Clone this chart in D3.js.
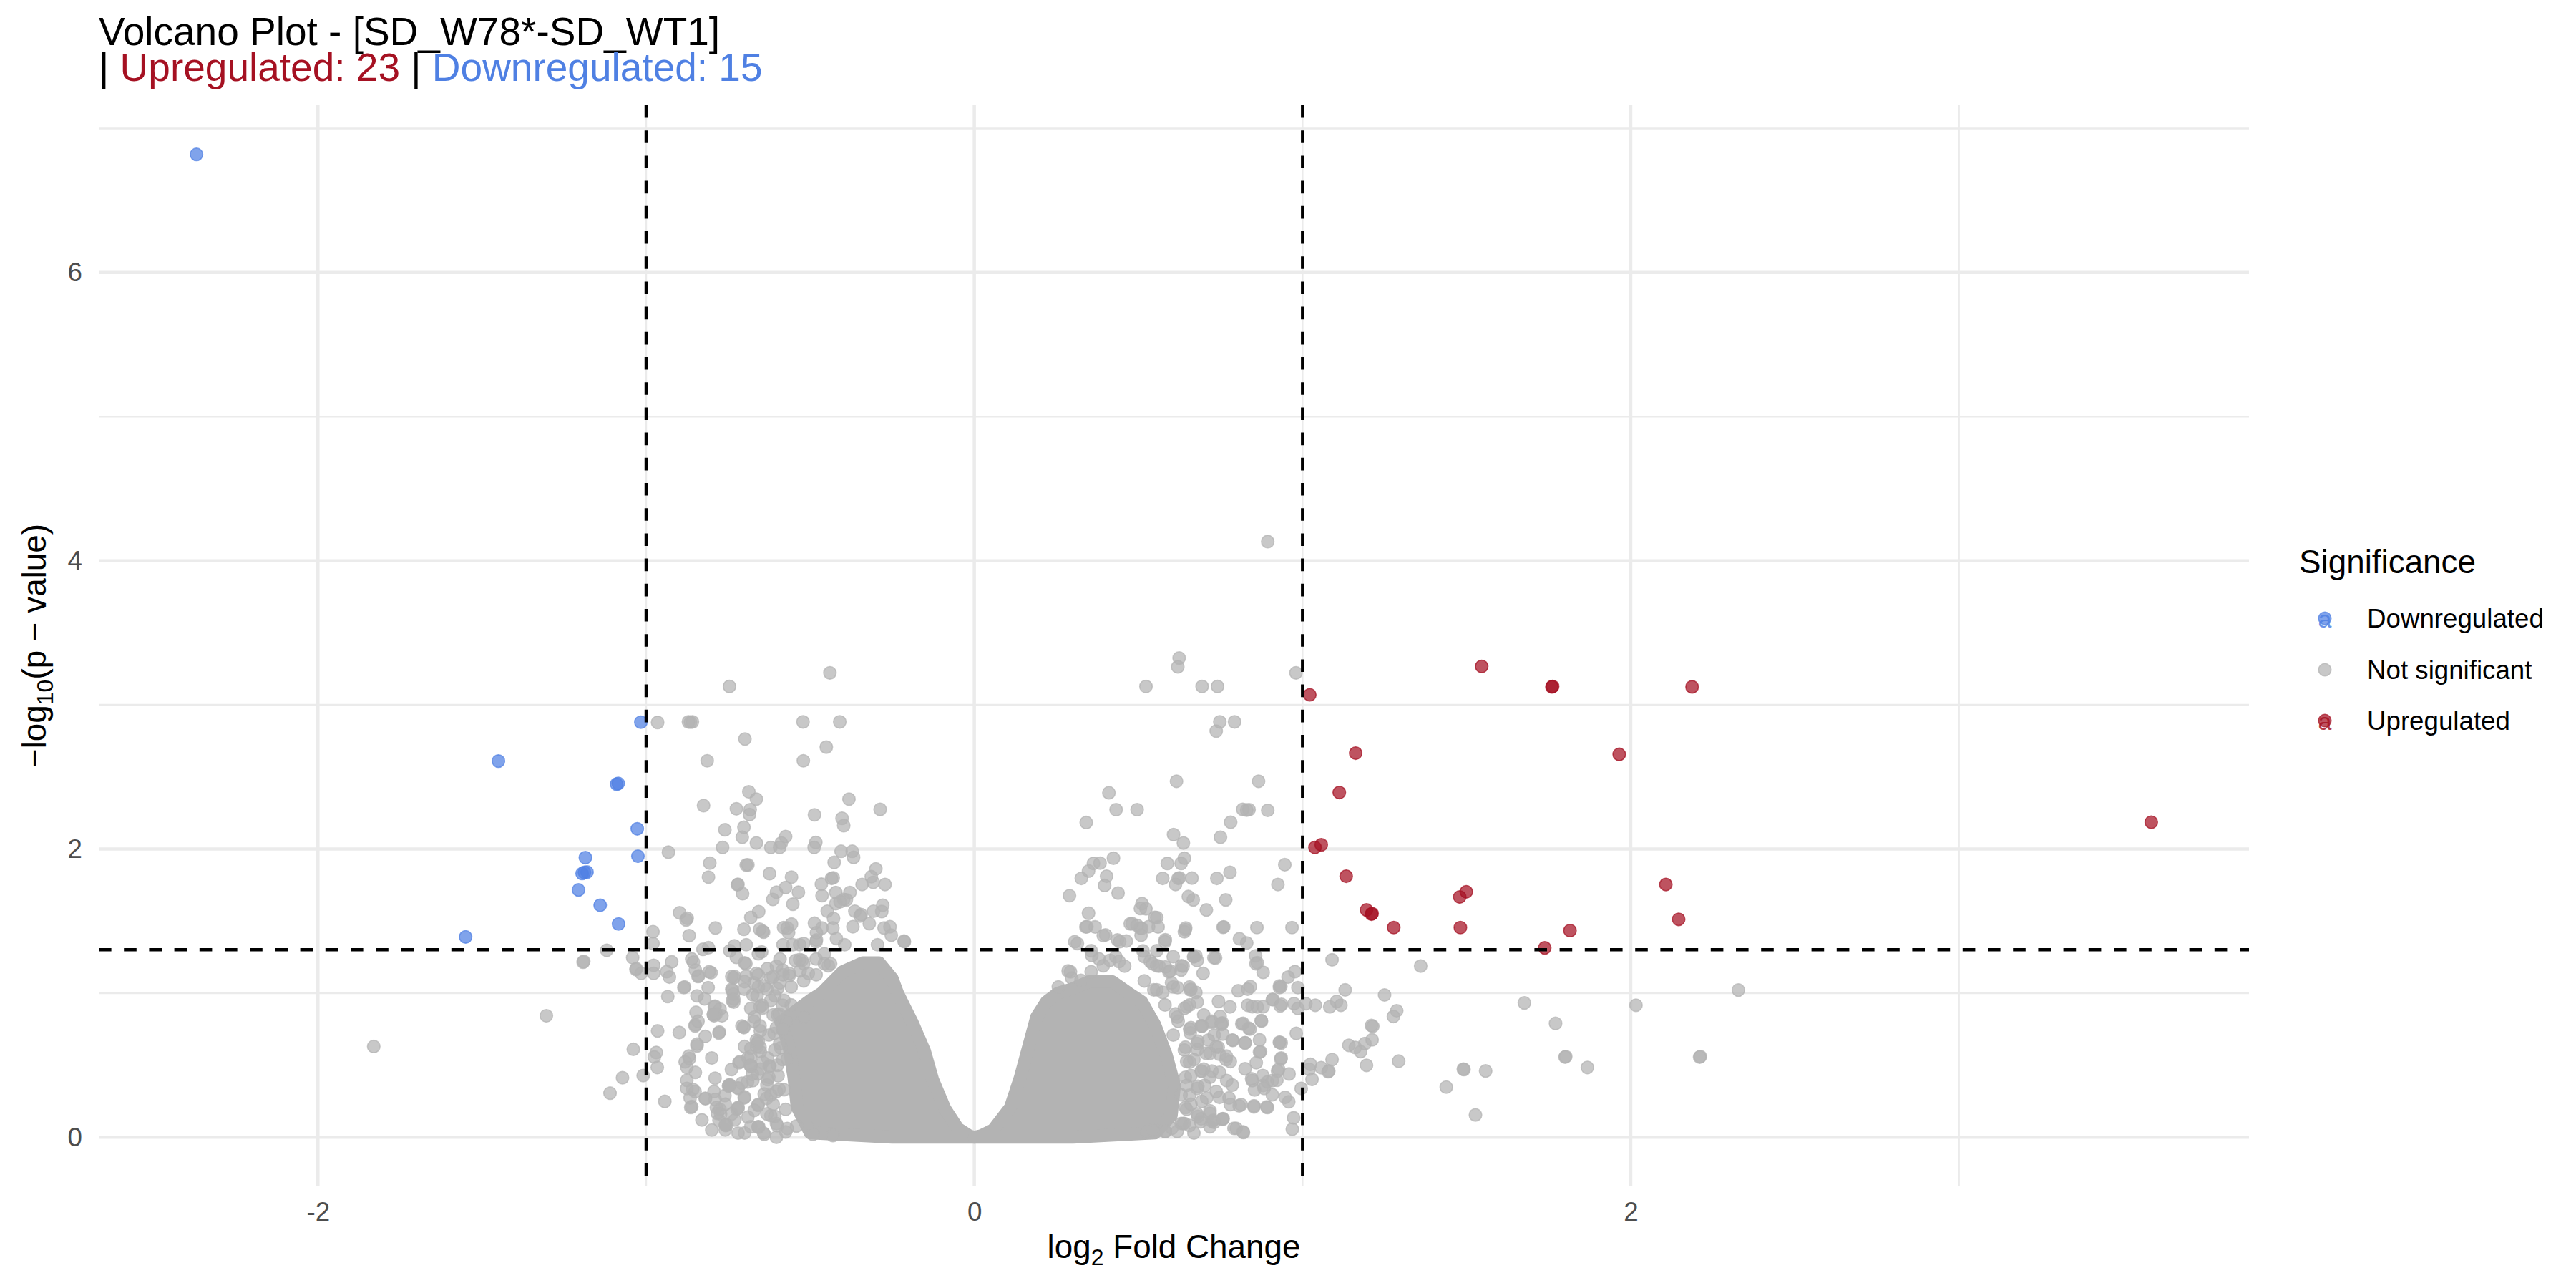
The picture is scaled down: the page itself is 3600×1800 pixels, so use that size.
<!DOCTYPE html>
<html>
<head>
<meta charset="utf-8">
<script src="https://cdn.jsdelivr.net/npm/d3@7"></script>
<style>
  body { margin: 0; background: #fff; }
  text { font-family: "Liberation Sans", Arial, Helvetica, sans-serif; }
</style>
</head>
<body>
<div id="chart"></div>
<script>
const width = 3600,
    height = 1800;

// 軸的刻度
const xTicks = [-2, 0, 2];
const xMinor = [-1, 1, 3];
const yTicks = [0, 2, 4, 6];
const yMinor = [1, 3, 5, 7];

// 門檻線 |log2FC| = 1, p = 0.05
const fcCut = 1;
const pCut = 1.301;

const groups = ['Downregulated', 'Not significant', 'Upregulated'];
const colours = ['#4F80E3', '#B3B3B3', '#A51122'];

// 顯著下調 [log2FC, -log10 p]
const downPoints = [
    [-2.37, 6.82], [-1.45, 2.61], [-1.55, 1.39], [-1.016, 2.88], [-1.09, 2.45],
    [-1.085, 2.455], [-1.027, 2.14], [-1.025, 1.95], [-1.185, 1.94], [-1.18, 1.84],
    [-1.195, 1.83], [-1.188, 1.838], [-1.206, 1.716], [-1.14, 1.61], [-1.084, 1.48]
];

// 顯著上調
const upPoints = [
    [1.022, 3.07], [1.546, 3.267], [1.76, 3.125], [1.762, 3.128], [2.187, 3.125],
    [1.965, 2.657], [3.586, 2.186], [1.499, 1.703], [1.479, 1.667], [1.481, 1.455],
    [1.815, 1.434], [1.738, 1.314], [2.107, 1.754], [2.146, 1.512], [1.162, 2.665],
    [1.112, 2.392], [1.038, 2.011], [1.057, 2.029], [1.133, 1.811], [1.195, 1.577],
    [1.21, 1.548], [1.212, 1.552], [1.278, 1.455]
];

// 不顯著（散開的點）
const nsPoints = [
    // left side
    [-1.83, 0.63], [-1.304, 0.843], [-1.12, 1.297], [-1.041, 1.246], [-1.192, 1.215], [-1.19, 1.22],
    [-1.031, 1.164], [-1.03, 1.17], [-1.015, 1.137], [-0.977, 1.193], [-0.977, 1.137], [-0.922, 1.217],
    [-0.937, 1.149], [-0.929, 1.111], [-0.885, 1.038], [-0.861, 1.237], [-0.856, 1.215], [-0.842, 1.115],
    [-0.84, 1.12], [-0.85, 1.16], [-0.802, 1.142], [-0.827, 1.304], [-0.81, 1.315], [-0.811, 1.038],
    [-0.934, 0.976], [-0.822, 0.96], [-0.792, 0.905], [-0.79, 0.91], [-0.793, 0.843], [-0.795, 0.85],
    [-0.769, 0.843], [-0.848, 0.867], [-0.851, 0.772], [-0.85, 0.78], [-0.842, 0.805], [-0.965, 0.738],
    [-0.899, 0.727], [-0.778, 0.723], [-0.845, 0.634], [-1.039, 0.61], [-0.969, 0.588], [-0.975, 0.557],
    [-0.966, 0.484], [-0.868, 0.546], [-0.881, 0.523], [-0.876, 0.484], [-0.85, 0.45], [-1.072, 0.413],
    [-1.009, 0.428], [-1.11, 0.306], [-0.876, 0.395], [-0.876, 0.339], [-0.851, 0.317], [-0.866, 0.273],
    [-0.861, 0.213], [-0.943, 0.249], [-0.819, 0.268], [-0.793, 0.317], [-0.79, 0.262], [-0.786, 0.206],
    [-0.773, 0.162], [-0.754, 0.084], [-0.749, 0.355], [-0.745, 0.36], [-0.723, 0.195], [-0.717, 0.517],
    [-0.68, 0.495], [-0.702, 0.761], [-0.73, 1.115], [-0.739, 1.027], [-0.734, 0.993], [-0.733, 0.938],
    [-0.725, 1.248], [-0.696, 1.204], [-0.7, 1.21], [-0.659, 0.222], [-0.657, 0.073], [-0.681, 0.617],
    [-0.662, 0.65], [-0.652, 0.594],
    [-0.965, 2.878], [-0.871, 2.882], [-0.859, 2.882], [-0.865, 2.88], [-0.522, 2.882], [-0.41, 2.882],
    [-0.699, 2.763], [-0.451, 2.707], [-0.814, 2.612], [-0.521, 2.612], [-0.687, 2.397], [-0.664, 2.346],
    [-0.382, 2.346], [-0.825, 2.301], [-0.725, 2.279], [-0.683, 2.273], [-0.685, 2.239], [-0.287, 2.275],
    [-0.487, 2.237], [-0.403, 2.213], [-0.398, 2.162], [-0.76, 2.133], [-0.702, 2.151], [-0.707, 2.082],
    [-0.664, 2.042], [-0.575, 2.086], [-0.588, 2.042], [-0.62, 2.011], [-0.593, 2.011], [-0.483, 2.046],
    [-0.488, 2.011], [-0.767, 2.011], [-0.932, 1.978], [-0.406, 1.984], [-0.372, 1.984], [-0.368, 1.942],
    [-0.806, 1.902], [-0.695, 1.889], [-0.69, 1.89], [-0.427, 1.907], [-0.435, 1.796], [-0.43, 1.8],
    [-0.81, 1.805], [-0.624, 1.829], [-0.557, 1.805], [-0.3, 1.862], [-0.342, 1.754], [-0.308, 1.769],
    [-0.272, 1.754], [-0.722, 1.752], [-0.72, 1.755], [-0.706, 1.69], [-0.466, 1.756], [-0.464, 1.676],
    [-0.603, 1.7], [-0.575, 1.733], [-0.536, 1.7], [-0.553, 1.617], [-0.614, 1.65],
    [-0.422, 1.698], [-0.379, 1.698], [-0.39, 1.647], [-0.422, 1.621], [-0.279, 1.61], [-0.398, 1.65],
    [-0.409, 1.634], [-0.314, 1.808], [-0.898, 1.557], [-0.875, 1.519], [-0.878, 1.508], [-0.657, 1.565],
    [-0.681, 1.525], [-0.789, 1.452], [-0.869, 1.399], [-0.702, 1.443], [-0.654, 1.443], [-0.642, 1.423],
    [-0.645, 1.43], [-0.581, 1.455], [-0.566, 1.419], [-0.557, 1.479], [-0.979, 1.426], [-0.979, 1.344],
    [-0.448, 1.568], [-0.429, 1.518], [-0.364, 1.568], [-0.348, 1.535], [-0.307, 1.568], [-0.275, 1.452],
    [-0.487, 1.485], [-0.464, 1.452], [-0.431, 1.452], [-0.481, 1.419], [-0.253, 1.402], [-0.214, 1.361],
    [-0.57, 1.452], [-0.553, 1.336], [-0.52, 1.344], [-0.481, 1.369], [-0.731, 1.328], [-0.648, 1.286],
    [-0.592, 1.237], [-0.525, 1.228], [-0.664, 1.137], [-0.631, 1.17], [-0.603, 1.187], [-0.564, 1.121],
    [-0.531, 1.154], [-0.737, 1.021], [-0.737, 0.947], [-0.675, 0.988], [-0.653, 0.906], [-0.787, 0.856],
    [-0.775, 0.889], [-0.703, 0.765], [-0.653, 0.773], [-0.664, 0.674], [-0.653, 0.624], [-0.714, 0.525],
    [-0.681, 0.492], [-0.748, 0.36], [-0.72, 0.343], [-0.72, 0.202], [-0.675, 0.393], [-0.659, 0.227],
    [-0.775, 0.194], [-0.759, 0.086], [-0.659, 0.07], [-0.575, 0.037], [-0.492, 0.02], [-0.431, 0.012],
    [-0.625, 0.492], [-0.598, 0.426], [-0.62, 0.293], [-0.575, 0.194], [-0.542, 0.078],
    [-0.62, 0.95], [-0.6, 0.85], [-0.61, 0.72], [-0.59, 0.62], [-0.63, 0.55], [-0.6, 0.5], [-0.63, 0.4],
    [-0.58, 0.33], [-0.62, 0.15], [-0.6, 0.08], [-0.64, 0.3], [-0.66, 0.44], [-0.6, 1.03], [-0.58, 0.95],
    [-0.585, 0.75], [-0.64, 1.05], [-0.7, 1.08], [-0.69, 0.55], [-0.7, 0.63], [-0.74, 0.47], [-0.76, 0.29],
    [-0.79, 0.41], [-0.8, 0.55], [-0.82, 0.7], [-0.7, 0.28], [-0.73, 0.12], [-0.69, 0.14], [-0.64, 0.02],
    [-0.7, 0.03], [-0.8, 0.05], [-0.83, 0.12],
    [-0.739, 1.115], [-0.701, 1.027], [-0.671, 1.071], [-0.662, 0.982], [-0.647, 0.916], [-0.632, 1.027],
    [-0.613, 1.115], [-0.593, 1.071], [-0.584, 1.16], [-0.564, 1.137], [-0.545, 1.226], [-0.52, 1.204],
    [-0.506, 1.137], [-0.482, 1.237], [-0.457, 1.204], [-0.438, 1.204], [-0.681, 0.894], [-0.671, 0.805],
    [-0.652, 0.738], [-0.662, 0.628], [-0.681, 0.561], [-0.652, 0.473], [-0.623, 0.495], [-0.632, 0.362],
    [-0.603, 0.317], [-0.613, 0.229], [-0.632, 0.162], [-0.603, 0.096], [-0.584, 0.539], [-0.593, 0.65],
    [-0.603, 0.761], [-0.613, 0.849], [-0.584, 0.916], [-0.574, 0.805], [-0.72, 0.339], [-0.701, 0.273],
    [-0.691, 0.384], [-0.759, 0.229], [-0.739, 0.162], [-0.778, 0.118], [-0.759, 0.051], [-0.72, 0.029],
    [-0.681, 0.073], [-0.642, 0.029], [-0.603, 0.0],
    [-0.733, 1.106], [-0.695, 1.117], [-0.658, 1.127], [-0.62, 1.106], [-0.583, 1.127], [-0.558, 1.043],
    [-0.52, 1.085], [-0.658, 1.043], [-0.608, 0.981], [-0.645, 0.897], [-0.595, 0.855], [-0.558, 0.918],
    [-0.52, 0.834], [-0.583, 0.751], [-0.626, 0.709], [-0.658, 0.667], [-0.608, 0.605], [-0.57, 0.542],
    [-0.645, 0.521], [-0.676, 0.437], [-0.626, 0.416], [-0.595, 0.333], [-0.633, 0.27], [-0.67, 0.187],
    [-0.608, 0.145], [-0.57, 0.061], [-0.658, 0.072], [-0.708, 0.375], [-0.745, 0.364], [-0.72, 0.207],
    [-0.758, 0.082], [-0.783, 0.166], [-0.683, 0.5], [-0.708, 0.772], [-0.733, 0.96], [-0.67, 0.834],
    [-0.777, 0.73], [-0.845, 0.646], [-0.87, 0.563], [-0.858, 0.333], [-0.82, 0.27], [-0.864, 0.207],
    [-0.795, 0.855], [-0.845, 0.981], [-0.883, 1.043], [-0.808, 1.148], [-0.745, 1.294], [-0.695, 1.336],
    [-0.658, 1.273], [-0.583, 1.336], [-0.532, 1.336], [-0.482, 1.357], [-0.532, 1.232], [-0.457, 1.273],
    [-0.42, 1.378], [-0.37, 1.461], [-0.32, 1.482], [-0.345, 1.545], [-0.282, 1.566], [-0.257, 1.461],
    [-0.213, 1.357], [-0.295, 1.336], [-0.395, 1.336], [-0.445, 1.19], [-0.482, 1.127],
    // top middle
    [-0.746, 3.128], [-0.44, 3.222], [0.523, 3.128], [0.624, 3.325], [0.62, 3.264], [0.694, 3.128],
    [0.741, 3.128], [0.98, 3.222], [0.894, 4.133],
    // right side
    [0.748, 2.882], [0.793, 2.882], [0.737, 2.818], [0.616, 2.47], [0.866, 2.47], [0.41, 2.39],
    [0.432, 2.273], [0.496, 2.273], [0.341, 2.184], [0.818, 2.275], [0.837, 2.273], [0.83, 2.27],
    [0.894, 2.268], [0.781, 2.186], [0.607, 2.1], [0.637, 2.042], [0.75, 2.082], [0.424, 1.936],
    [0.363, 1.9], [0.383, 1.902], [0.348, 1.847], [0.326, 1.796], [0.403, 1.811], [0.397, 1.747],
    [0.438, 1.694], [0.29, 1.676], [0.588, 1.9], [0.63, 1.9], [0.64, 1.936], [0.574, 1.796],
    [0.621, 1.796], [0.625, 1.8], [0.613, 1.754], [0.663, 1.798], [0.739, 1.796], [0.779, 1.838],
    [0.946, 1.891], [0.925, 1.754], [0.652, 1.67], [0.667, 1.647], [0.707, 1.577], [0.766, 1.647],
    [0.511, 1.621], [0.523, 1.585], [0.55, 1.525], [0.56, 1.459], [0.348, 1.554], [0.34, 1.459],
    [0.368, 1.459], [0.475, 1.481], [0.496, 1.47], [0.506, 1.452], [0.51, 1.45], [0.644, 1.452],
    [0.64, 1.426], [0.758, 1.457], [0.76, 1.46], [0.861, 1.455], [0.968, 1.455], [0.4, 1.404],
    [0.314, 1.344], [0.582, 1.37], [0.808, 1.377], [0.83, 1.348], [0.857, 1.259], [0.862, 1.211],
    [0.88, 1.144], [0.735, 1.244], [0.697, 1.137], [0.675, 1.259], [0.679, 1.226], [1.09, 1.231],
    [1.36, 1.188], [0.977, 1.149], [0.956, 1.111], [0.934, 1.045], [0.93, 1.05], [0.986, 1.038],
    [1.13, 1.022], [1.25, 0.987], [0.804, 1.016], [0.833, 1.027], [0.841, 1.045], [0.91, 0.956],
    [0.932, 0.912], [0.974, 0.927], [0.986, 0.894], [1.01, 0.927], [1.039, 0.916], [1.083, 0.905],
    [1.104, 0.942], [1.117, 0.916], [1.287, 0.878], [1.277, 0.838], [1.214, 0.77], [1.21, 0.775],
    [1.212, 0.676], [1.141, 0.638], [1.161, 0.623], [1.177, 0.594], [1.19, 0.65], [1.195, 0.499],
    [1.293, 0.528], [1.438, 0.348], [1.09, 0.539], [1.078, 0.455], [1.08, 0.46], [1.057, 0.483],
    [1.029, 0.401], [1.02, 0.472], [1.024, 0.506], [0.996, 0.339], [0.958, 0.246], [0.973, 0.135],
    [0.969, 0.056], [0.798, 0.062], [0.82, 0.033], [0.935, 0.654], [0.93, 0.66], [0.981, 0.721],
    [0.934, 0.543], [0.935, 0.55], [0.927, 0.472], [0.959, 0.439], [0.869, 0.676], [0.872, 0.594],
    [0.859, 0.517], [0.879, 0.428], [0.845, 0.406], [0.854, 0.328], [0.883, 0.339], [0.788, 0.672],
    [0.825, 0.654], [0.744, 0.942], [0.779, 0.905], [0.833, 0.916], [0.862, 0.905], [0.874, 0.81],
    [0.815, 0.787], [0.84, 0.75], [0.695, 0.772], [0.723, 0.798], [0.753, 0.783], [0.749, 0.838],
    [0.908, 0.295], [0.893, 0.384], [0.922, 0.395], [0.807, 0.218], [0.852, 0.218], [0.893, 0.207],
    [0.757, 0.129], [0.728, 0.118], [0.689, 0.107], [0.63, 0.096], [0.582, 0.04],
    [0.358, 1.261], [0.38, 1.237], [0.413, 1.228], [0.441, 1.22], [0.458, 1.187], [0.286, 1.154],
    [0.297, 1.104], [0.325, 1.088], [0.536, 1.22], [0.563, 1.187], [0.597, 1.154], [0.636, 1.187],
    [0.669, 1.253], [0.73, 1.245], [0.858, 1.204], [0.547, 1.022], [0.574, 1.005], [0.619, 1.038],
    [0.658, 1.022], [0.675, 1.005], [0.847, 0.906], [0.88, 0.906], [0.908, 0.955], [0.93, 1.038],
    [0.936, 0.922], [0.613, 0.856], [0.647, 0.906], [0.691, 0.773], [0.724, 0.806], [0.752, 0.79],
    [0.786, 0.674], [0.819, 0.79], [0.836, 0.757], [0.875, 0.806], [0.93, 0.657], [0.825, 0.657],
    [0.869, 0.591], [0.658, 0.724], [0.68, 0.608], [0.713, 0.674], [0.747, 0.575], [0.78, 0.525],
    [0.647, 0.525], [0.691, 0.459], [0.724, 0.459], [0.769, 0.393], [0.825, 0.475], [0.847, 0.393],
    [0.88, 0.36], [0.908, 0.393], [0.924, 0.459], [0.947, 0.277], [0.647, 0.36], [0.702, 0.36],
    [0.747, 0.277], [0.78, 0.227], [0.813, 0.227], [0.852, 0.211], [0.891, 0.211], [0.647, 0.194],
    [0.691, 0.128], [0.724, 0.111], [0.758, 0.128], [0.791, 0.062], [0.819, 0.037], [0.636, 0.095],
    [0.602, 0.062], [0.558, 0.045], [0.525, 0.037], [0.436, 1.369], [0.463, 1.361], [0.508, 1.402],
    [0.514, 1.293], [0.543, 1.204], [0.582, 1.182], [0.601, 1.071], [0.63, 1.16], [0.66, 1.027],
    [0.679, 0.938], [0.64, 0.894], [0.621, 0.805], [0.66, 0.761], [0.679, 0.65], [0.64, 0.605],
    [0.669, 0.539], [0.699, 0.473], [0.66, 0.428], [0.679, 0.339], [0.708, 0.273], [0.66, 0.229],
    [0.679, 0.162], [0.718, 0.184], [0.737, 0.317], [0.747, 0.45], [0.767, 0.539], [0.737, 0.628],
    [0.776, 0.273], [0.786, 0.362], [0.718, 0.583], [0.757, 0.716], [0.699, 0.849], [0.63, 0.295],
    [0.64, 0.096], [0.669, 0.029], [0.718, 0.073], [0.543, 0.051],
    [0.518, 1.253], [0.556, 1.294], [0.606, 1.253], [0.556, 1.19], [0.593, 1.148], [0.631, 1.19],
    [0.668, 1.253], [0.518, 1.085], [0.556, 1.023], [0.606, 1.043], [0.656, 1.043], [0.581, 0.918],
    [0.618, 0.834], [0.656, 0.918], [0.606, 0.709], [0.656, 0.751], [0.693, 0.772], [0.643, 0.625],
    [0.681, 0.667], [0.706, 0.583], [0.656, 0.521], [0.693, 0.458], [0.643, 0.416], [0.681, 0.354],
    [0.718, 0.416], [0.656, 0.291], [0.693, 0.249], [0.643, 0.207], [0.681, 0.145], [0.718, 0.166],
    [0.656, 0.082], [0.618, 0.04], [0.581, 0.04], [0.731, 0.103], [0.756, 0.124], [0.743, 0.625],
    [0.768, 0.563], [0.731, 0.709], [0.756, 0.793], [0.531, 1.461], [0.481, 1.482], [0.506, 1.587],
    [0.556, 1.524], [0.643, 1.44], [0.581, 1.357], [0.443, 1.357], [0.431, 1.253], [0.393, 1.19],
    [0.356, 1.294], [0.343, 1.461], [0.393, 1.399], [0.306, 1.357], [0.293, 1.148], [0.256, 1.043],
    [0.356, 1.148],
    // far right
    [2.328, 1.021], [1.676, 0.932], [2.016, 0.916], [1.771, 0.79], [1.8, 0.556], [1.802, 0.56],
    [2.21, 0.556], [2.212, 0.56], [1.868, 0.484], [1.49, 0.473], [1.492, 0.47], [1.558, 0.46],
    [1.527, 0.155]
];

// 密集區的外框（點中心），用粗邊線補上點的半徑
const leftCloud = [
    [-0.5, 0.03], [-0.54, 0.21], [-0.55, 0.42], [-0.565, 0.63], [-0.59, 0.8], [-0.5, 0.95],
    [-0.465, 1.0], [-0.4, 1.15], [-0.34, 1.21], [-0.29, 1.21], [-0.25, 1.1], [-0.234, 1.0],
    [-0.19, 0.8], [-0.152, 0.6], [-0.127, 0.4], [-0.09, 0.2], [-0.05, 0.06], [-0.015, 0.01],
    [0, 0], [-0.25, 0.0]
];
const rightCloud = [
    [0, 0], [0.02, 0.01], [0.057, 0.05], [0.11, 0.207], [0.14, 0.415], [0.165, 0.625], [0.19, 0.835],
    [0.22, 0.94], [0.255, 1.0], [0.3, 1.03], [0.35, 1.08], [0.42, 1.08], [0.47, 1.0], [0.51, 0.94],
    [0.55, 0.78], [0.585, 0.57], [0.61, 0.36], [0.6, 0.15], [0.55, 0.03], [0.3, 0.0]
];

const margin = { left: 138, right: 3143, top: 147, bottom: 1658 };

const svg = d3.select('#chart')
    .append('svg')
    .attr('width', width)
    .attr('height', height);

svg.append('rect').attr('width', width).attr('height', height).attr('fill', '#fff');

// 比例尺（跟 ggplot 一樣往外擴 5%）
const allPts = downPoints.concat(upPoints, nsPoints, leftCloud, rightCloud);
const xExt = d3.extent(allPts, d => d[0]);
const yExt = d3.extent(allPts, d => d[1]);
const xPad = (xExt[1] - xExt[0]) * 0.05;
const yPad = (yExt[1] - yExt[0]) * 0.05;

const x = d3.scaleLinear()
    .domain([xExt[0] - xPad, xExt[1] + xPad])
    .range([margin.left, margin.right]);
const y = d3.scaleLinear()
    .domain([yExt[0] - yPad, yExt[1] + yPad])
    .range([margin.bottom, margin.top]);

// 格線
const grid = svg.append('g');
grid.selectAll('.xminor').data(xMinor).enter().append('line')
    .attr('x1', d => x(d)).attr('x2', d => x(d))
    .attr('y1', margin.top).attr('y2', margin.bottom)
    .attr('stroke', '#EBEBEB').attr('stroke-width', 2.5);
grid.selectAll('.yminor').data(yMinor).enter().append('line')
    .attr('y1', d => y(d)).attr('y2', d => y(d))
    .attr('x1', margin.left).attr('x2', margin.right)
    .attr('stroke', '#EBEBEB').attr('stroke-width', 2.5);
grid.selectAll('.xmajor').data(xTicks).enter().append('line')
    .attr('x1', d => x(d)).attr('x2', d => x(d))
    .attr('y1', margin.top).attr('y2', margin.bottom)
    .attr('stroke', '#EBEBEB').attr('stroke-width', 4.5);
grid.selectAll('.ymajor').data(yTicks).enter().append('line')
    .attr('y1', d => y(d)).attr('y2', d => y(d))
    .attr('x1', margin.left).attr('x2', margin.right)
    .attr('stroke', '#EBEBEB').attr('stroke-width', 4.5);

// 密集區
const line = d3.line().x(d => x(d[0])).y(d => y(d[1])).curve(d3.curveLinearClosed);
svg.append('g').selectAll('path')
    .data([leftCloud, rightCloud])
    .enter()
    .append('path')
    .attr('d', line)
    .attr('fill', colours[1])
    .attr('stroke', colours[1])
    .attr('stroke-width', 18)
    .attr('stroke-linejoin', 'round');

// 點
const pointR = 8.8;
function drawPoints(data, colour) {
    svg.append('g')
        .selectAll('circle')
        .data(data)
        .enter()
        .append('circle')
        .attr('cx', d => x(d[0]))
        .attr('cy', d => y(d[1]))
        .attr('r', pointR)
        .attr('fill', colour)
        .attr('fill-opacity', 0.72)
        .attr('stroke', colour)
        .attr('stroke-opacity', 0.72)
        .attr('stroke-width', 1.6);
}
drawPoints(nsPoints, colours[1]);
drawPoints(downPoints, colours[0]);
drawPoints(upPoints, colours[2]);

// 虛線
const dash = svg.append('g')
    .attr('stroke', '#000')
    .attr('stroke-width', 4.4)
    .attr('stroke-dasharray', '17.6,17.6');
dash.selectAll('.v').data([-fcCut, fcCut]).enter().append('line')
    .attr('x1', d => x(d)).attr('x2', d => x(d))
    .attr('y1', margin.top).attr('y2', margin.bottom);
dash.append('line')
    .attr('x1', margin.left).attr('x2', margin.right)
    .attr('y1', y(pCut)).attr('y2', y(pCut));

// 座標軸
const xAxis = svg.append('g')
    .attr('transform', `translate(0,${margin.bottom})`)
    .call(d3.axisBottom(x).tickValues(xTicks).tickSize(0).tickPadding(22).tickFormat(d => String(d)));
const yAxis = svg.append('g')
    .attr('transform', `translate(${margin.left},0)`)
    .call(d3.axisLeft(y).tickValues(yTicks).tickSize(0).tickPadding(23).tickFormat(d => String(d)));
[xAxis, yAxis].forEach(function(a) {
    a.select('.domain').remove();
    a.selectAll('text')
        .attr('fill', '#4D4D4D')
        .style('font-size', '36.7px')
        .style('font-family', '"Liberation Sans", Arial, sans-serif');
});

// 軸標題
const xTitle = svg.append('text')
    .attr('x', (margin.left + margin.right) / 2)
    .attr('y', 1758)
    .attr('text-anchor', 'middle')
    .style('font-size', '45.8px');
xTitle.append('tspan').text('log');
xTitle.append('tspan').attr('dy', 10).style('font-size', '32px').text('2');
xTitle.append('tspan').attr('dy', -10).text(' Fold Change');

const yTitle = svg.append('text')
    .attr('transform', `translate(64,${(margin.top + margin.bottom) / 2}) rotate(-90)`)
    .attr('text-anchor', 'middle')
    .style('font-size', '45.8px');
yTitle.append('tspan').text('\u2212log');
yTitle.append('tspan').attr('dy', 10).style('font-size', '32px').text('10');
yTitle.append('tspan').attr('dy', -10).text('(p \u2212 value)');

// 標題（兩行）
svg.append('text')
    .attr('x', margin.left)
    .attr('y', 63)
    .style('font-size', '55px')
    .text('Volcano Plot - [SD_W78*-SD_WT1]');
const sub = svg.append('text')
    .attr('x', margin.left)
    .attr('y', 113)
    .style('font-size', '55px');
sub.append('tspan').text('| ');
sub.append('tspan').attr('fill', colours[2]).text('Upregulated: ' + upPoints.length);
sub.append('tspan').text(' | ');
sub.append('tspan').attr('fill', colours[0]).text('Downregulated: ' + downPoints.length);

// 圖例
const legend = svg.append('g');
legend.append('text')
    .attr('x', 3213)
    .attr('y', 801)
    .style('font-size', '45.8px')
    .text('Significance');
const keyY = [864, 936, 1007];
const keys = legend.selectAll('.key')
    .data(groups)
    .enter()
    .append('g')
    .attr('transform', (d, i) => `translate(3249,${keyY[i]})`);
keys.append('circle')
    .attr('r', pointR)
    .attr('fill', (d, i) => colours[i])
    .attr('fill-opacity', 0.72)
    .attr('stroke', (d, i) => colours[i])
    .attr('stroke-opacity', 0.72)
    .attr('stroke-width', 1.6);
keys.filter(d => d !== 'Not significant')
    .append('text')
    .attr('y', 13)
    .attr('text-anchor', 'middle')
    .attr('fill', d => d === 'Downregulated' ? colours[0] : colours[2])
    .attr('fill-opacity', 0.85)
    .style('font-size', '34px')
    .text('a');
keys.append('text')
    .attr('x', 59)
    .attr('y', 13)
    .style('font-size', '36.7px')
    .text(d => d);
</script>
</body>
</html>
